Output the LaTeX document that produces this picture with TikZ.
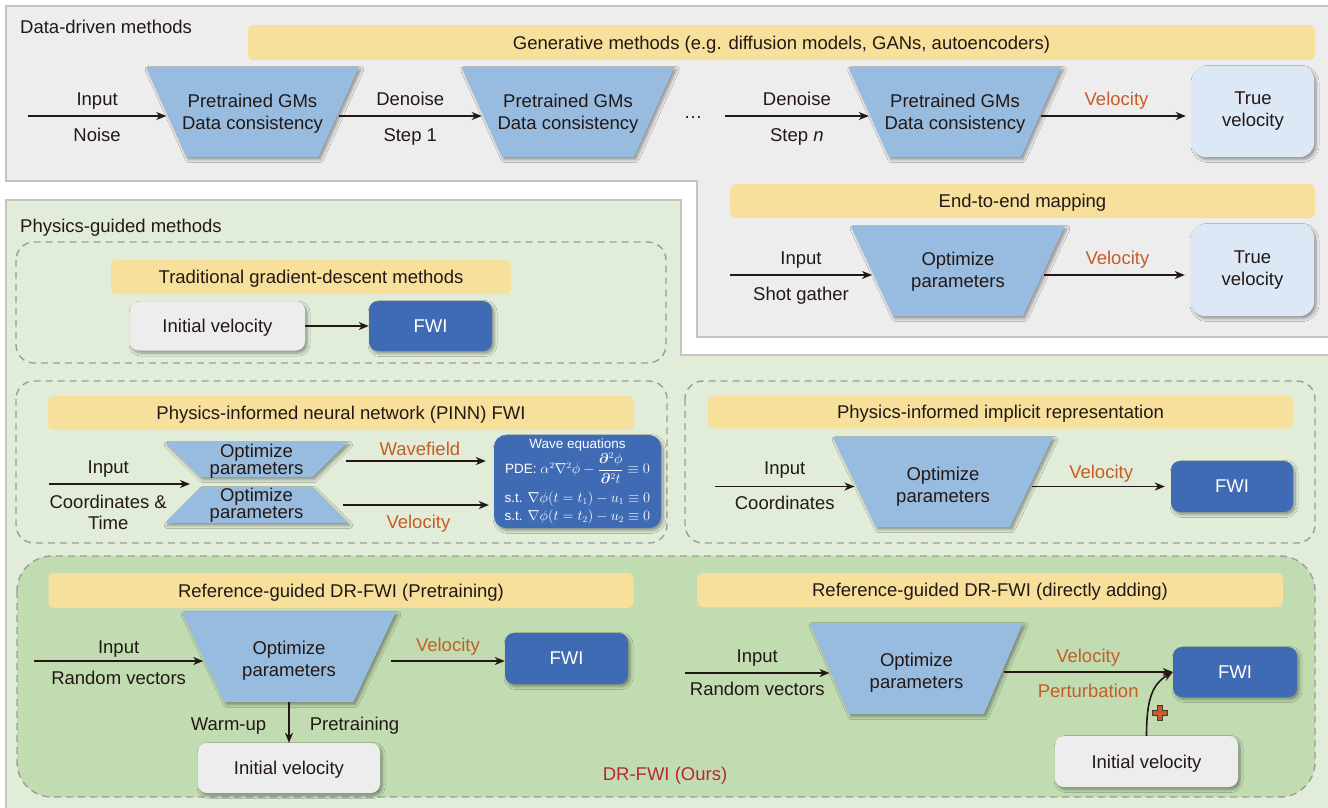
\documentclass[tikz,border=0pt]{standalone}
\usepackage{amsmath,bm}
\usepackage{fontspec}
\setmainfont{Liberation Sans}
\usetikzlibrary{arrows.meta,calc,shadows.blur}

\definecolor{ink}{HTML}{231815}
\definecolor{grayfill}{HTML}{EDEDED}
\definecolor{grayline}{HTML}{C4C4C4}
\definecolor{greenfill}{HTML}{E1EDD8}
\definecolor{drfill}{HTML}{C2DCB2}
\definecolor{bannerc}{HTML}{F7E09B}
\definecolor{trapc}{HTML}{98BCDF}
\definecolor{fwic}{HTML}{3F6AB4}
\definecolor{truec}{HTML}{DCE8F5}
\definecolor{ivc}{HTML}{EDEDED}
\definecolor{orangec}{HTML}{C65C26}
\definecolor{redc}{HTML}{B72737}
\definecolor{dashc}{HTML}{9C9C9C}

\newcommand{\labfont}{\fontsize{18.5}{22}\selectfont}
\newcommand{\pinnfont}{\fontsize{18.5}{17.5}\selectfont}
\newcommand{\twofont}{\fontsize{18.5}{21}\selectfont}
\newcommand{\wavefont}{\fontsize{13.5}{19}\selectfont}

\tikzset{
  arr/.style={draw=ink, line width=1.6pt, -{Stealth[length=10pt,width=8pt,inset=3pt]}},
  lab/.style={font=\labfont, text=ink, inner sep=0pt, text height=13.5pt, text depth=4pt},
  labtwo/.style={font=\twofont, text=ink, inner sep=0pt, align=center},
  vlab/.style={lab, text=orangec},
  heading/.style={font=\labfont, text=ink, inner sep=0pt},
  banner/.style={fill=bannerc, rounded corners=6pt, font=\labfont, text=ink, inner sep=0pt, text height=13pt, text depth=0pt},
  softshadow/.style={blur shadow={shadow xshift=2pt, shadow yshift=-2.5pt, shadow blur radius=3pt, shadow blur steps=6}},
  fwibox/.style={fill=fwic, rounded corners=9pt, text=white, font=\labfont, softshadow, inner sep=0pt},
  ivbox/.style={fill=ivc, rounded corners=9pt, text=ink, font=\labfont, softshadow, inner sep=0pt, text height=13pt, text depth=0pt},
  truebox/.style={fill=truec, rounded corners=14pt, align=center, font=\labfont, text=ink, softshadow, inner sep=0pt},
  wavebox/.style={fill=fwic, rounded corners=12pt, text=white, align=center, font=\wavefont, softshadow, inner sep=0pt},
  traptext/.style={align=center, font=\labfont, inner sep=0pt, text=ink},
  trapfill/.style={fill=trapc, softshadow},
  dashbox/.style={draw=dashc, line width=1.4pt, dash pattern=on 7pt off 5pt, rounded corners=18pt},
}

% #1 extra style, #2 name, #3 cx, #4 cy, #5 half top, #6 half bottom, #7 half height, #8 text
\newcommand{\trapez}[8][]{%
  \fill[trapfill] (#3-#5,#4-#7) -- (#3+#5,#4-#7) -- (#3+#6,#4+#7) -- (#3-#6,#4+#7) -- cycle;
  \node[traptext,#1] (#2) at (#3,#4) {#8};
  \coordinate (#2-l) at ({#3-(#5+#6)/2},#4);
  \coordinate (#2-r) at ({#3+(#5+#6)/2},#4);
  \coordinate (#2-b) at (#3,#4+#7);
  \coordinate (#2-t) at (#3,#4-#7);
}

\begin{document}
\begin{tikzpicture}[x=1pt,y=-1pt]
\useasboundingbox (0,0) rectangle (1328,807);
\fill[white] (0,0) rectangle (1328,807);

% ---------------- regions ----------------
\filldraw[fill=grayfill, draw=grayline, line width=1.5pt]
  (6,6) -- (1340,6) -- (1340,337) -- (697,337) -- (697,181) -- (6,181) -- cycle;
\filldraw[fill=greenfill, draw=grayline, line width=1.5pt]
  (6,200) -- (681,200) -- (681,355) -- (1340,355) -- (1340,820) -- (6,820) -- cycle;

\draw[dashbox] (16,242) rectangle (666,363);
\draw[dashbox] (16,381) rectangle (667,543);
\draw[dashbox] (685,381) rectangle (1315,543);
\filldraw[dashbox, fill=drfill, rounded corners=35pt] (17,556) rectangle (1315,797);

% ---------------- data-driven ----------------
\node[heading, anchor=west] (hDD) at (20,27) {Data-driven methods};
\node[banner, minimum width=1067pt, minimum height=35pt] (bGen) at (781.5,42.5)
  {Generative methods (e.g. diffusion models, GANs, autoencoders)};

\trapez[yshift=-2pt]{tA1}{252.5}{112}{106.5}{66}{45}{Pretrained GMs\\Data consistency}
\trapez[yshift=-2pt]{tA2}{568}{112}{106.5}{66}{45}{Pretrained GMs\\Data consistency}
\trapez[yshift=-2pt]{tA3}{955}{112}{106.5}{66}{45}{Pretrained GMs\\Data consistency}
\node[truebox, minimum width=122pt, minimum height=91pt] (tv1) at (1253,111.5) {True\\velocity};

\coordinate (s1) at (28,116);
\coordinate (s3) at (725,116);
\draw[arr] (s1) -- (s1 -| tA1-l)
  node[lab, midway, above=5.75pt] (l1a) {Input}
  node[lab, midway, below=11.5pt] (l1b) {Noise};
\draw[arr] (tA1-r |- s1) -- (tA2-l |- s1)
  node[lab, midway, above=5.75pt] (l2a) {Denoise}
  node[lab, midway, below=11.5pt] (l2b) {Step 1};
\node[lab] (dots) at (693,114) {\dots};
\draw[arr] (s3) -- (s3 -| tA3-l)
  node[lab, midway, above=5.75pt] (l3a) {Denoise}
  node[lab, midway, below=11.5pt] (l3b) {Step \textit{n}};
\draw[arr, shorten >=6pt] (tA3-r |- s1) -- (s1 -| tv1.west)
  node[vlab, midway, above=5.25pt] (l4a) {Velocity};

% ---------------- end-to-end ----------------
\node[banner, minimum width=585pt, minimum height=34pt] (bE2E) at (1022.5,201) {End-to-end mapping};
\trapez[yshift=-1pt]{tB}{958}{271}{107}{65}{45}{Optimize\\parameters}
\node[truebox, minimum width=123pt, minimum height=92pt] (tv2) at (1252.5,270) {True\\velocity};
\coordinate (s4) at (730,275);
\draw[arr] (s4) -- (s4 -| tB-l)
  node[lab, midway, above=5.25pt] (l5a) {Input}
  node[lab, midway, below=11.25pt] (l5b) {Shot gather};
\draw[arr, shorten >=6pt] (tB-r |- s4) -- (s4 -| tv2.west)
  node[vlab, midway, above=5.25pt] (l6a) {Velocity};

% ---------------- physics-guided ----------------
\node[heading, anchor=west] (hPG) at (20,227.5) {Physics-guided methods};

% traditional
\node[banner, minimum width=400pt, minimum height=34pt] (bTrad) at (311,277) {Traditional gradient-descent methods};
\node[ivbox, minimum width=175pt, minimum height=49pt] (iv1) at (217.5,326) {Initial velocity};
\node[fwibox, minimum width=123pt, minimum height=50pt] (fwi1) at (430.5,326) {FWI};
\draw[arr] (iv1.east) -- (fwi1.west);

% PINN
\node[banner, minimum width=586pt, minimum height=34pt] (bPINN) at (341,413) {Physics-informed neural network (PINN) FWI};
\trapez[font=\pinnfont, yshift=-1.5pt]{tC1}{256.5}{459.5}{91.5}{56}{17.5}{Optimize\\parameters}
\trapez[font=\pinnfont]{tC2}{256.5}{505}{56}{91.5}{18}{Optimize\\parameters}
\node[wavebox, minimum width=167pt, minimum height=93pt] (wave) at (577.5,481.5)
  {Wave equations\\[0pt]
   PDE: $\alpha^2\nabla^2\phi-\dfrac{\bm{\partial}^2\phi}{\bm{\partial}^2t}\equiv0$\\[7pt]
   s.t. $\nabla\phi(t=t_1)-u_1\equiv0$\\[-1pt]
   s.t. $\nabla\phi(t=t_2)-u_2\equiv0$};
\coordinate (pin) at (49,484);
\coordinate (pjoin) at (190,484);
\draw[arr] (pin) -- (pjoin)
  node[lab, pos=0.42, above=6pt] (l7a) {Input}
  node[labtwo, pos=0.42, below=10pt] (l7b) {Coordinates \&\\Time};
\coordinate (wvs) at (346,461);
\draw[arr, shorten >=8pt] (wvs) -- (wvs -| wave.west)
  node[vlab, midway, above=1pt] (l8a) {Wavefield};
\coordinate (vls) at (343,505);
\draw[arr, shorten >=5pt] (vls) -- (vls -| wave.west)
  node[vlab, midway, below=9pt] (l9a) {Velocity};

% implicit
\node[banner, minimum width=585pt, minimum height=33pt] (bImp) at (1000.5,412) {Physics-informed implicit representation};
\trapez[yshift=-4.5pt]{tD}{943}{482}{110}{67}{45}{Optimize\\parameters}
\node[fwibox, minimum width=122pt, minimum height=51pt] (fwi2) at (1232,486.5) {FWI};
\coordinate (s5) at (715,486.5);
\draw[arr] (s5) -- (s5 -| tD-l)
  node[lab, midway, above=7.25pt] (l10a) {Input}
  node[lab, midway, below=9pt] (l10b) {Coordinates};
\draw[arr, shorten >=6pt] (tD-r |- s5) -- (fwi2.west)
  node[vlab, midway, above=3pt] (l11a) {Velocity};

% ---------------- DR-FWI ----------------
\node[heading, text=redc] (ours) at (665,776) {DR-FWI (Ours)};

\node[banner, minimum width=585pt, minimum height=35pt] (bPre) at (341,590.5) {Reference-guided DR-FWI (Pretraining)};
\trapez[yshift=-4pt]{tE}{289}{657}{107}{64.5}{45}{Optimize\\parameters}
\node[fwibox, minimum width=123pt, minimum height=51pt] (fwi3) at (566.5,658.5) {FWI};
\node[ivbox, minimum width=182pt, minimum height=50pt] (iv2) at (289,768) {Initial velocity};
\coordinate (s6) at (34,661);
\draw[arr] (s6) -- (s6 -| tE-l)
  node[lab, midway, above=3pt] (l12a) {Input}
  node[lab, midway, below=9.5pt] (l12b) {Random vectors};
\coordinate (s7) at (391,661);
\draw[arr] (s7) -- (s7 -| fwi3.west)
  node[vlab, midway, above=4.5pt] (l13a) {Velocity};
\draw[arr] (tE-b) -- (iv2.north)
  node[lab, pos=0.58, left=22pt] (l14a) {Warm-up}
  node[lab, pos=0.58, right=20pt] (l14b) {Pretraining};

\node[banner, minimum width=586pt, minimum height=34pt] (bAdd) at (990,590) {Reference-guided DR-FWI (directly adding)};
\trapez[yshift=-4pt]{tF}{916.5}{668.5}{106.5}{67.5}{45.5}{Optimize\\parameters}
\node[fwibox, minimum width=124pt, minimum height=50pt] (fwi4) at (1235,672) {FWI};
\node[ivbox, minimum width=183pt, minimum height=51pt] (iv3) at (1146.5,761.5) {Initial velocity};
\coordinate (s8) at (685,673);
\draw[arr] (s8) -- (s8 -| tF-l)
  node[lab, midway, above=5.25pt] (l15a) {Input}
  node[lab, midway, below=8pt] (l15b) {Random vectors};
\draw[arr] (tF-r |- fwi4.west) -- (fwi4.west)
  node[vlab, midway, above=4.25pt] (l16a) {Velocity}
  node[vlab, midway, below=11.25pt] (l16b) {Perturbation};
\draw[arr] (iv3.north) .. controls ($(iv3.north)+(0,-38)$) and ($(fwi4.west)+(-20,12)$) .. (fwi4.west);
\filldraw[fill=orangec, draw=ink!85, line width=0.7pt]
  (1157.5,705.5) -- (1162.5,705.5) -- (1162.5,710.5) -- (1167.5,710.5) -- (1167.5,715.5)
  -- (1162.5,715.5) -- (1162.5,720.5) -- (1157.5,720.5) -- (1157.5,715.5) -- (1152.5,715.5)
  -- (1152.5,710.5) -- (1157.5,710.5) -- cycle;
\end{tikzpicture}
\end{document}
